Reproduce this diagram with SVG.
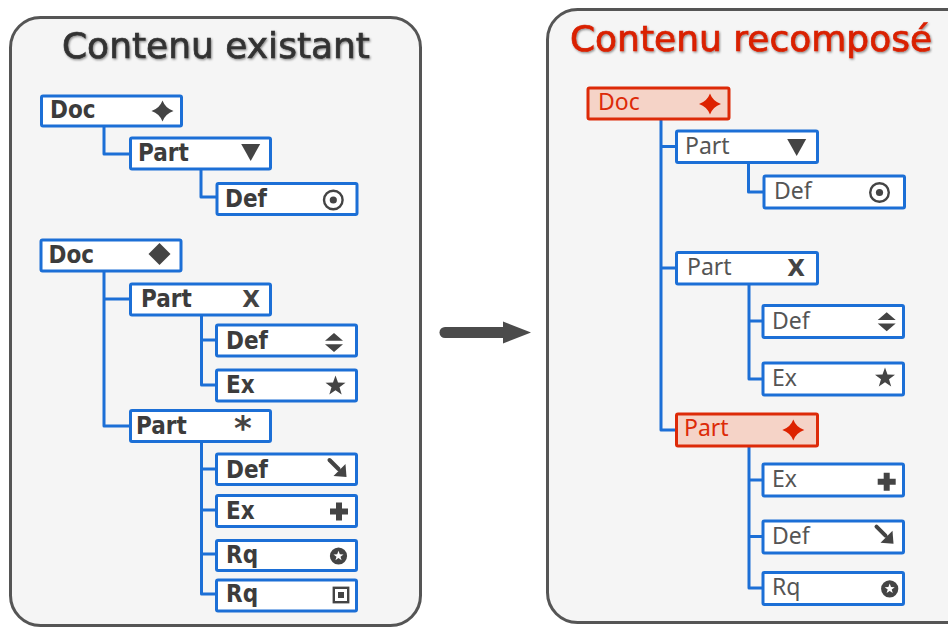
<svg xmlns="http://www.w3.org/2000/svg" xmlns:xlink="http://www.w3.org/1999/xlink" width="948" height="627" viewBox="0 0 948 627">
<style>
.panel{fill:#f5f5f5;stroke:#555;stroke-width:3}
.title{font-family:"DejaVu Sans",sans-serif;font-size:36px;text-anchor:middle;stroke-width:0.7}
.box{fill:#fff;stroke:#1c6fd6;stroke-width:3}
.boxR{fill:#f5d3c7;stroke:#dd2a08;stroke-width:3}
.lb{font-family:"DejaVu Sans Condensed","DejaVu Sans",sans-serif;font-stretch:condensed;font-weight:bold;font-size:24px;fill:#3c3c3c}
.lr{font-family:"Noto Sans","DejaVu Sans",sans-serif;font-size:23px;fill:#555}
.lrr{font-family:"Noto Sans","DejaVu Sans",sans-serif;font-size:23px;fill:#dd2a08}
.ic{fill:#444}
.icr{fill:#dd2200}
.sym{font-family:"DejaVu Sans",sans-serif;font-weight:bold;fill:#444;text-anchor:middle}
.conn path{fill:none;stroke:#1c6fd6;stroke-width:3;stroke-linejoin:round}
</style>
<defs>
<filter id="sh" x="-5%" y="-20%" width="110%" height="140%">
<feDropShadow dx="1" dy="1.2" stdDeviation="0.8" flood-color="#000" flood-opacity="0.45"/>
</filter>
<path id="sparkle" d="M0,-10.5 Q2.8,-2.8 11,0 Q2.8,2.8 0,10.5 Q-2.8,2.8 -11,0 Q-2.8,-2.8 0,-10.5Z"/>
<path id="tri" d="M-9.5,-8.5 H9.5 L0,8.5Z"/>
<g id="target"><circle r="9.3" fill="none" stroke="#444" stroke-width="2.4"/><circle r="3.6"/></g>
<path id="diamond" d="M0,-11 L11,0 L0,11 L-11,0Z"/>
<path id="sort" d="M-9,-1.8 L0,-9.5 L9,-1.8Z M-9,1.8 L9,1.8 L0,9.5Z"/>
<path id="star" d="M0,-10.5 L2.5,-3.4 L10,-3.3 L4,1.3 L6.2,8.5 L0,4.2 L-6.2,8.5 L-4,1.3 L-10,-3.3 L-2.5,-3.4Z"/>
<g id="darrow"><path d="M-8,-8 L1,1" stroke="#444" stroke-width="4" fill="none" stroke-linecap="round"/><path d="M9,9 L8,-4 L-4,8Z"/></g>
<path id="plus" d="M-3,-9 H3 V-3 H9 V3 H3 V9 H-3 V3 H-9 V-3 H-3Z"/>
<g id="cstar"><circle r="8.6"/><path fill="#fff" d="M0,-5.2 L1.3,-1.7 L5,-1.6 L2,0.7 L3.1,4.3 L0,2.1 L-3.1,4.3 L-2,0.7 L-5,-1.6 L-1.3,-1.7Z"/></g>
<g id="sqdot"><rect x="-7.2" y="-7.2" width="14.4" height="14.4" fill="none" stroke="#444" stroke-width="2.4"/><rect x="-3" y="-3" width="6" height="6"/></g>
</defs>
<rect width="948" height="627" fill="#fff"/>

<g id="panel-left">
<rect class="panel" x="10.5" y="17.5" width="410" height="608" rx="30"/>
<text class="title" x="216" y="58" fill="#333" stroke="#333" filter="url(#sh)">Contenu existant</text>
</g>
<g id="panel-right">
<rect class="panel" x="547.5" y="9.5" width="430" height="613" rx="30"/>
<text class="title" x="751" y="51" fill="#d92000" stroke="#d92000" filter="url(#sh)">Contenu recomposé</text>
</g>

<g id="arrow">
<line x1="445" y1="332.5" x2="505" y2="332.5" stroke="#4b4b4b" stroke-width="11" stroke-linecap="round"/>
<path d="M503,321.5 L531,332.5 L503,343.5Z" fill="#4b4b4b"/>
</g>

<g class="conn" id="connectors">
<path d="M104,127 V154 H130.5"/>
<path d="M201,169 V197 H217"/>
<path d="M104,271 V426 H130.5 M104,299 H130.5"/>
<path d="M201.5,315 V385 H216.5 M201.5,340 H216.5"/>
<path d="M201.5,441.5 V594 H216.5 M201.5,469 H216.5 M201.5,510 H216.5 M201.5,554 H216.5"/>
<path d="M661,119 V430 H676.5 M661,146.5 H676.5 M661,268 H676.5"/>
<path d="M748.5,162.5 V192 H763"/>
<path d="M749,284 V379 H763 M749,321 H763"/>
<path d="M749,446 V588 H763 M749,480 H763 M749,536.5 H763"/>
</g>

<g id="l-doc1"><rect class="box" x="41.5" y="96" width="140" height="30" rx="1.5"/><text class="lb" x="50" y="117.5">Doc</text><use href="#sparkle" class="ic" x="162.5" y="111"/></g>
<g id="l-part1"><rect class="box" x="130.5" y="138" width="140" height="31" rx="1.5"/><text class="lb" x="138" y="161">Part</text><use href="#tri" class="ic" x="250.7" y="152.5"/></g>
<g id="l-def1"><rect class="box" x="217" y="183.5" width="140" height="31" rx="1.5"/><text class="lb" x="225" y="206.5">Def</text><use href="#target" class="ic" x="333.3" y="200"/></g>

<g id="l-doc2"><rect class="box" x="41" y="240" width="140" height="31" rx="1.5"/><text class="lb" x="48.5" y="262.5">Doc</text><use href="#diamond" class="ic" x="159.5" y="254"/></g>
<g id="l-part2a"><rect class="box" x="130.5" y="284" width="140" height="31" rx="1.5"/><text class="lb" x="141" y="307">Part</text><text class="sym" x="251" y="307" font-size="23">X</text></g>
<g id="l-def2a"><rect class="box" x="216.5" y="325" width="140" height="31" rx="1.5"/><text class="lb" x="226" y="349">Def</text><use href="#sort" class="ic" x="334" y="342.5"/></g>
<g id="l-ex2a"><rect class="box" x="216.5" y="370" width="140" height="31" rx="1.5"/><text class="lb" x="226" y="393">Ex</text><use href="#star" class="ic" x="335.5" y="386"/></g>
<g id="l-part2b"><rect class="box" x="130.5" y="410.5" width="140" height="31" rx="1.5"/><text class="lb" x="136" y="433.5">Part</text><text class="sym" x="243" y="440" font-size="34">*</text></g>
<g id="l-def2b"><rect class="box" x="216.5" y="454" width="140" height="30.5" rx="1.5"/><text class="lb" x="226" y="478">Def</text><use href="#darrow" class="ic" x="337.5" y="468"/></g>
<g id="l-ex2b"><rect class="box" x="216.5" y="495.5" width="140" height="31" rx="1.5"/><text class="lb" x="226" y="518.5">Ex</text><use href="#plus" class="ic" x="339" y="511.5"/></g>
<g id="l-rq1"><rect class="box" x="216.5" y="540.5" width="140" height="30" rx="1.5"/><text class="lb" x="226" y="562.5">Rq</text><use href="#cstar" class="ic" x="338.5" y="556"/></g>
<g id="l-rq2"><rect class="box" x="216.5" y="580" width="140" height="31" rx="1.5"/><text class="lb" x="226" y="602">Rq</text><use href="#sqdot" class="ic" x="341" y="595"/></g>

<g id="r-doc"><rect class="boxR" x="588" y="88" width="141" height="31" rx="1.5"/><text class="lrr" x="598" y="109.5">Doc</text><use href="#sparkle" class="icr" x="710" y="104"/></g>
<g id="r-part1"><rect class="box" x="676.5" y="131" width="141" height="31.5" rx="1.5"/><text class="lr" x="685" y="153.5">Part</text><use href="#tri" class="ic" x="796.7" y="147.5"/></g>
<g id="r-def1"><rect class="box" x="764" y="176" width="140.5" height="32" rx="1.5"/><text class="lr" x="774" y="199">Def</text><use href="#target" class="ic" x="879.5" y="192.5"/></g>
<g id="r-part2"><rect class="box" x="676.5" y="252.5" width="141" height="31.5" rx="1.5"/><text class="lr" x="687" y="275">Part</text><text class="sym" x="796" y="276" font-size="23">X</text></g>
<g id="r-def2"><rect class="box" x="763" y="305.5" width="140.5" height="32" rx="1.5"/><text class="lr" x="772" y="328.5">Def</text><use href="#sort" class="ic" x="886.7" y="321.7"/></g>
<g id="r-ex2"><rect class="box" x="763" y="363" width="140.5" height="32" rx="1.5"/><text class="lr" x="772" y="386">Ex</text><use href="#star" class="ic" x="885" y="378"/></g>
<g id="r-part3"><rect class="boxR" x="676.5" y="414" width="141" height="32" rx="1.5"/><text class="lrr" x="684" y="436">Part</text><use href="#sparkle" class="icr" x="793.3" y="430"/></g>
<g id="r-ex3"><rect class="box" x="763" y="464" width="140.5" height="32" rx="1.5"/><text class="lr" x="772" y="487">Ex</text><use href="#plus" class="ic" x="886.7" y="481.7"/></g>
<g id="r-def3"><rect class="box" x="763" y="521" width="140.5" height="32" rx="1.5"/><text class="lr" x="772" y="544">Def</text><use href="#darrow" class="ic" x="884.5" y="534.7"/></g>
<g id="r-rq3"><rect class="box" x="763" y="572.5" width="140.5" height="32" rx="1.5"/><text class="lr" x="772" y="595">Rq</text><use href="#cstar" class="ic" x="889.7" y="588.8"/></g>
</svg>
